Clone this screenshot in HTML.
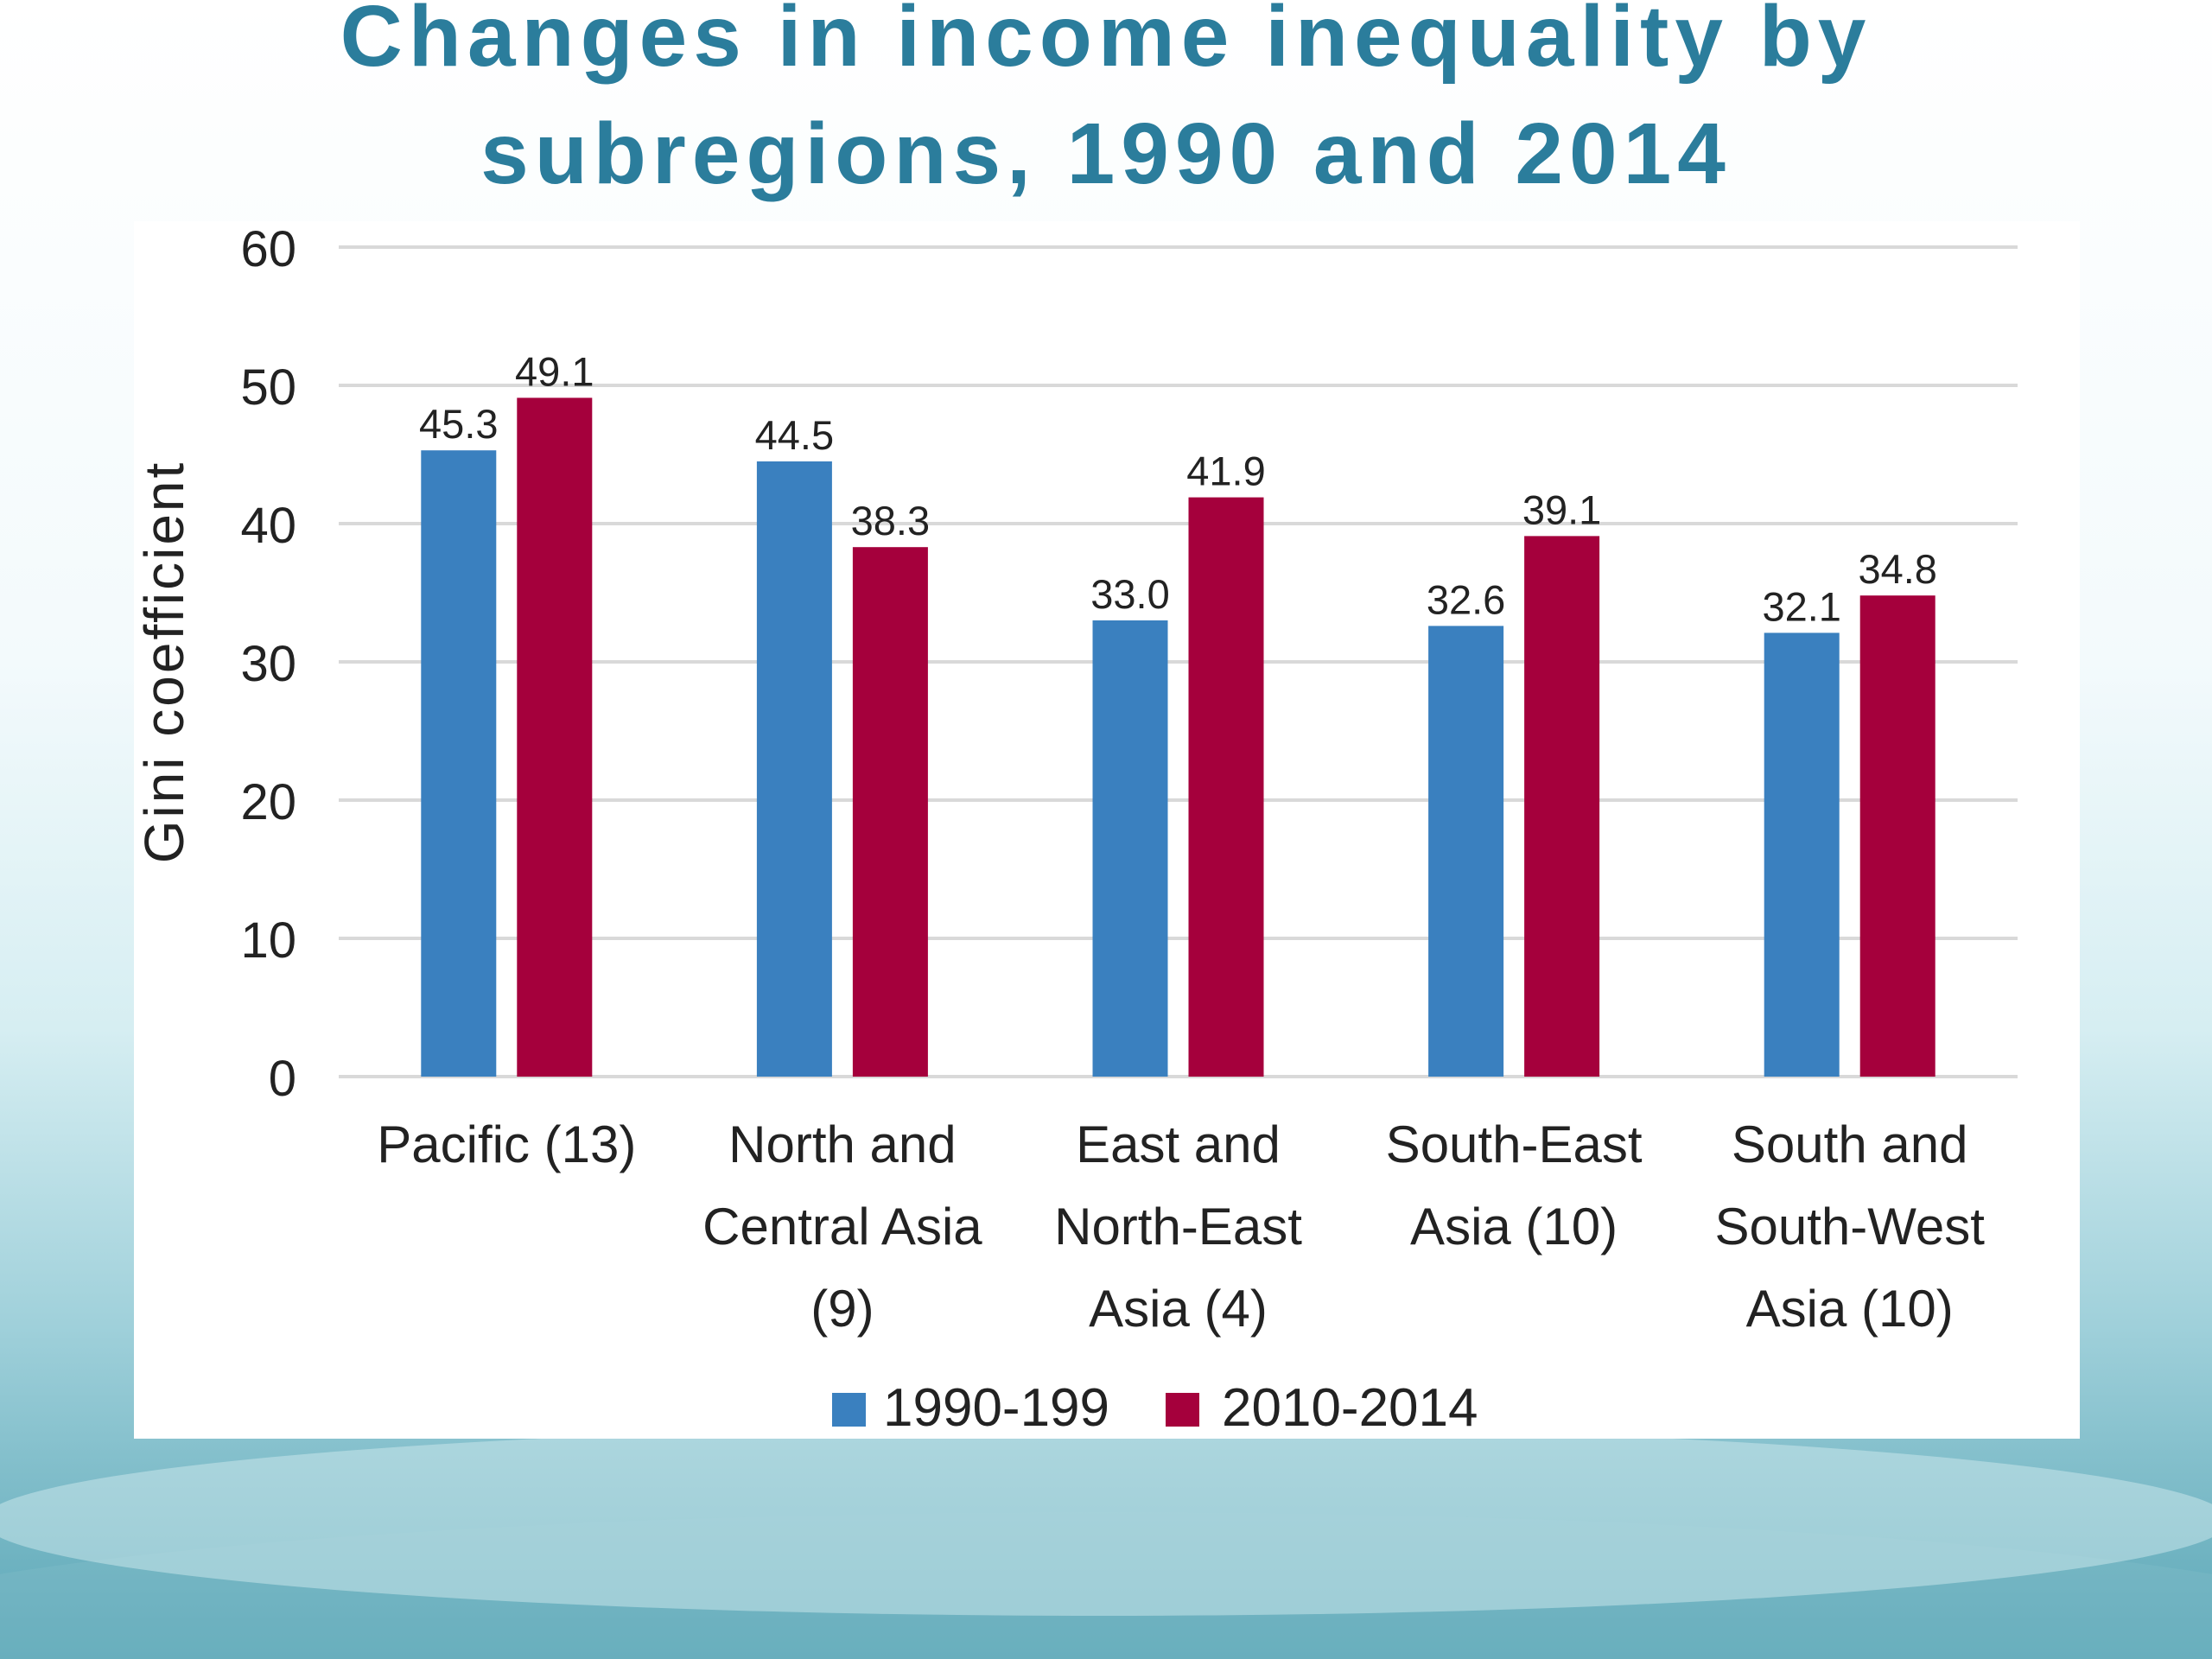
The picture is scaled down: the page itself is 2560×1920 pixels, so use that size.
<!DOCTYPE html>
<html><head><meta charset="utf-8">
<style>
html,body{margin:0;padding:0;width:2560px;height:1920px;overflow:hidden}
body{background:linear-gradient(180deg,#ffffff 0%,#f3fafc 40%,#d6eef2 62%,#9fd0da 80%,#5aa6b6 100%);font-family:"Liberation Sans",sans-serif}
svg{position:absolute;left:0;top:0;display:block}
</style></head>
<body>
<svg width="2560" height="1920" viewBox="0 0 2560 1920">
  <ellipse cx="1280" cy="1900" rx="1500" ry="150" fill="#7fbcc8" opacity="0.4"/>
  <ellipse cx="1280" cy="1760" rx="1300" ry="110" fill="#cfe9ee" opacity="0.5"/>
  <text x="1280" y="76" text-anchor="middle" font-size="100" font-weight="bold" letter-spacing="7" fill="#2b7d9c">Changes in income inequality by</text>
  <text x="1280" y="212" text-anchor="middle" font-size="100" font-weight="bold" letter-spacing="7" fill="#2b7d9c">subregions, 1990 and 2014</text>
  <rect x="155" y="256" width="2252" height="1409" fill="#ffffff"/>
  <g id="grid"></g>
  <g id="bars"></g>
  <text transform="translate(212,766) rotate(-90)" text-anchor="middle" font-family="'Liberation Sans Narrow','Liberation Sans',sans-serif" font-size="64" letter-spacing="3" fill="#222">Gini coefficient</text>
  <g>
    <rect x="963" y="1612" width="39" height="39" fill="#3a80bf"/>
    <text x="1022" y="1650" font-family="'Liberation Sans Narrow','Liberation Sans',sans-serif" font-size="62" fill="#222">1990-199</text>
    <rect x="1349" y="1612" width="39" height="39" fill="#a5003c"/>
    <text x="1414" y="1650" font-family="'Liberation Sans Narrow','Liberation Sans',sans-serif" font-size="62" fill="#222">2010-2014</text>
  </g>
</svg>
<script>
const categories = [["Pacific (13)"],["North and","Central Asia","(9)"],["East and","North-East","Asia (4)"],["South-East","Asia (10)"],["South and","South-West","Asia (10)"]];
const series1990 = [45.3,44.5,33.0,32.6,32.1];
const series2014 = [49.1,38.3,41.9,39.1,34.8];
const yTicks = [0,10,20,30,40,50,60];

const NS="http://www.w3.org/2000/svg";
const x0=392,x1=2335,yBase=1246,yTop=286,yMax=60;
const y=v=>yBase-(v/yMax)*(yBase-yTop);
const gw=(x1-x0)/categories.length;
const bw=87,gap=24;
const font="'Liberation Sans Narrow','Liberation Sans',sans-serif";
function mk(tag,attrs,parent){const e=document.createElementNS(NS,tag);for(const k in attrs)e.setAttribute(k,attrs[k]);parent.appendChild(e);return e;}
const grid=document.getElementById('grid'),bars=document.getElementById('bars');
yTicks.forEach(t=>{
  const l=mk('line',{x1:x0,x2:x1,y1:y(t),y2:y(t),stroke:'#d9d9d9','stroke-width':4},grid);
  
  
  const tx=mk('text',{x:343,y:y(t)+22,'text-anchor':'end','font-size':58,'font-family':font,fill:'#222'},grid);
  tx.textContent=t;
  
  
});
categories.forEach((c,i)=>{
  const cx=x0+gw*(i+0.5);
  [[series1990[i],'#3a80bf',cx-gap/2-bw,'1990'],[series2014[i],'#a5003c',cx+gap/2,'2014']].forEach(([v,col,bx,s])=>{
    const r=mk('rect',{x:bx,y:y(v),width:bw,height:yBase-y(v),fill:col},bars);
    
    
    const t=mk('text',{x:bx+bw/2,y:y(v)-14,'text-anchor':'middle','font-size':47,'font-family':font,fill:'#222'},bars);
    t.textContent=v.toFixed(1);
    
    
  });
  c.forEach((line,j)=>{
    const t=mk('text',{x:cx,y:1345+j*95,'text-anchor':'middle','font-size':60,'font-family':font,fill:'#222'},bars);
    t.textContent=line;
    
    
  });
});
</script>
</body></html>
